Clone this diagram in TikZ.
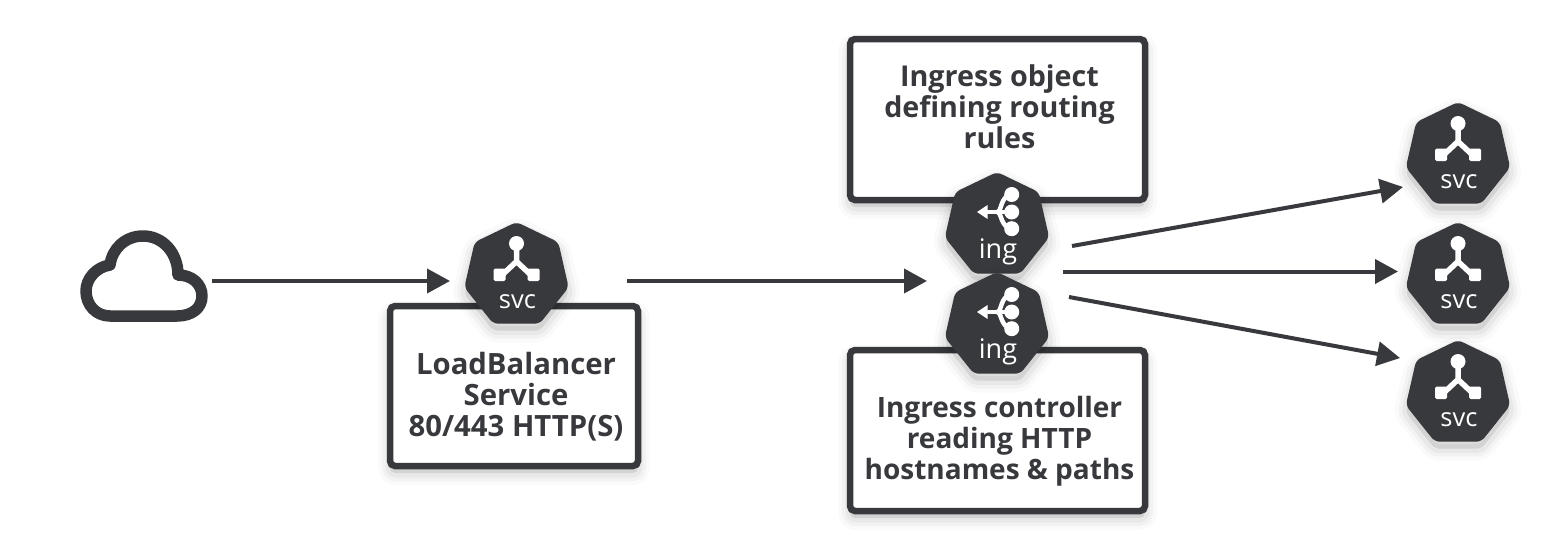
\documentclass[tikz,border=0pt]{standalone}
\usepackage{fontspec}
\setmainfont{Open Sans}
\usetikzlibrary{arrows.meta,shapes.geometric}
\definecolor{ink}{HTML}{38393D}
\tikzset{
  softshadow/.style={
    preaction={draw=black,draw opacity=.02,fill=black,fill opacity=.02,line width=24pt,line join=round,transform canvas={yshift=-7pt}},
    preaction={draw=black,draw opacity=.03,fill=black,fill opacity=.03,line width=16pt,line join=round,transform canvas={yshift=-7pt}},
    preaction={draw=black,draw opacity=.04,fill=black,fill opacity=.04,line width=9pt,line join=round,transform canvas={yshift=-7pt}}},
  panel/.style={draw=ink,line width=6.5pt,fill=white,rounded corners=5pt,inner sep=0pt,outer sep=0pt,softshadow,minimum width=#1},
  paneltext/.style={text=ink,align=center,inner sep=0pt,font=\fontsize{#1}{31}\selectfont\bfseries},
  hept/.style={shape=regular polygon,regular polygon sides=7,minimum size=107pt,inner sep=0pt,outer sep=0pt,fill=ink,rounded corners=5pt,softshadow},
  iconlabel/.style={text=white,anchor=base,inner sep=0pt},
  link/.style={draw=ink,line width=4pt,-{Triangle[length=23pt,width=24pt]}},
  cloudicon/.style={draw=ink,line width=11.5pt,line join=round},
  glyph/.style={draw=white,line width=5.5pt,line cap=round,line join=round}
}
\newcommand{\svcnode}[3]{%
  \node[hept] (#1) at (#2,#3) {};
  \fill[white] ([shift={(0,-32)}]#1.center) circle (7.5pt);
  \draw[glyph] ([shift={(0,-32)}]#1.center) -- ([shift={(0,-14)}]#1.center) -- ([shift={(-15,0)}]#1.center);
  \draw[glyph] ([shift={(0,-14)}]#1.center) -- ([shift={(15,0)}]#1.center);
  \fill[white,rounded corners=1.5pt] ([shift={(-23,-7)}]#1.center) rectangle ([shift={(-11,5.5)}]#1.center);
  \fill[white,rounded corners=1.5pt] ([shift={(11,-7)}]#1.center) rectangle ([shift={(23,5.5)}]#1.center);
  \node[iconlabel,font=\fontsize{25.5}{27}\selectfont] (#1label) at ([shift={(1,33)}]#1.center) {svc};
}
\newcommand{\ingnode}[3]{%
  \node[hept] (#1) at (#2,#3) {};
  \fill[white] ([shift={(14.7,-31)}]#1.center) circle (7.5pt);
  \fill[white] ([shift={(14.7,-13.5)}]#1.center) circle (7.5pt);
  \fill[white] ([shift={(14.7,3.2)}]#1.center) circle (7.5pt);
  \draw[glyph,line width=4.5pt] ([shift={(-12,-13.5)}]#1.center) -- ([shift={(14,-13.5)}]#1.center);
  \draw[glyph,line width=4.5pt] ([shift={(14,-31)}]#1.center) .. controls ([shift={(3,-29)}]#1.center) and ([shift={(5,-13.5)}]#1.center) .. ([shift={(0,-13.5)}]#1.center) .. controls ([shift={(5,-13.5)}]#1.center) and ([shift={(3,1)}]#1.center) .. ([shift={(14,3)}]#1.center);
  \fill[white] ([shift={(-20,-13.5)}]#1.center) -- ([shift={(-9.5,-20.5)}]#1.center) -- ([shift={(-9.5,-6.5)}]#1.center) -- cycle;
  \node[iconlabel,font=\fontsize{27}{29}\selectfont] (#1label) at ([shift={(1,33)}]#1.center) {ing};
}
\begin{document}
\begin{tikzpicture}[x=1pt,y=-1pt]
\useasboundingbox (0,0) rectangle (1562,546);
\fill[white] (0,0) rectangle (1562,546);
% boxes
\node[panel=248pt,minimum height=160pt] (lb) at (514,386) {};
\node[paneltext=29.3] (lbtext) at ([shift={(2,10.5)}]lb.center) {LoadBalancer\\Service\\80/443 HTTP(S)};
\node[panel=295pt,minimum height=161pt] (obj) at (997.5,119.5) {};
\node[paneltext=28.7] (objtext) at ([shift={(2,-12.5)}]obj.center) {Ingress object\\defining routing\\rules};
\node[panel=295pt,minimum height=161pt] (ctl) at (997.5,430.5) {};
\node[paneltext=28] (ctltext) at ([shift={(2,11)}]ctl.center) {Ingress controller\\reading HTTP\\hostnames \& paths};
% cloud
\node[minimum width=127pt,minimum height=92pt,inner sep=0pt,outer sep=0pt] (cloud) at (144,277) {};
\draw[cloudicon] (110,316) -- (177,316) .. controls (192,316) and (202,308) .. (202,296) .. controls (202,284) and (192,275) .. (178,275) .. controls (178,253) and (163,236) .. (143,236) .. controls (125,236) and (112,249) .. (110,265) .. controls (96,267) and (86,279) .. (86,291) .. controls (86,305) and (96,316) .. (110,316) -- cycle;
% icons
\svcnode{svcA}{516.5}{275.5}
\ingnode{ingA}{997}{225.5}
\ingnode{ingB}{997}{325.5}
\svcnode{svcB}{1458}{155.5}
\svcnode{svcC}{1458}{275.5}
\svcnode{svcD}{1458}{393.5}
% free ends
\coordinate (entry) at (927,281);
\coordinate (fanA) at (1072,246);
\coordinate (fanB) at (1063,271.5);
\coordinate (fanC) at (1069,297);
% connectors
\draw[link] ([shift={(68,4)}]cloud.center) -- ([shift={(-66.5,5.5)}]svcA.center);
\draw[link] ([shift={(110.5,5.5)}]svcA.center) -- (entry);
\draw[link] (fanA) -- ([shift={(-55,31.5)}]svcB.center);
\draw[link] (fanB) -- ([shift={(-60,-4)}]svcC.center);
\draw[link] (fanC) -- ([shift={(-58,-35.5)}]svcD.center);
\end{tikzpicture}
\end{document}
